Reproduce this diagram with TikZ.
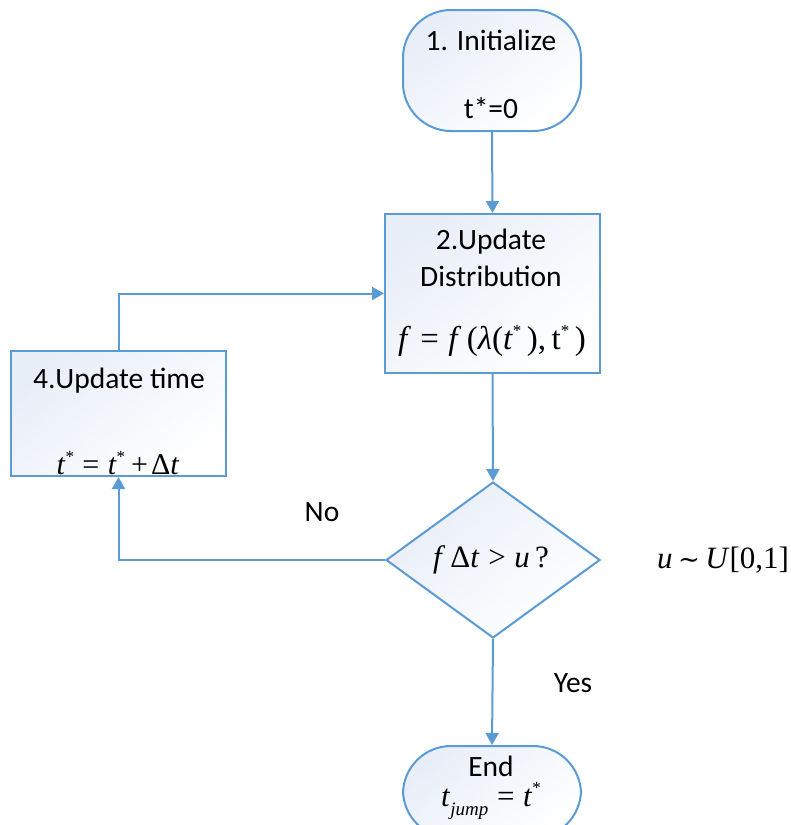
\documentclass[tikz,border=0pt]{standalone}
\usepackage{fontspec}
\setmainfont{Carlito}
\newfontfamily\tms{Liberation Serif}
\newfontfamily\djv{DejaVu Serif}
\usetikzlibrary{shapes.geometric,arrows.meta}
\definecolor{flowline}{HTML}{5B9BD5}
\definecolor{flowtint}{HTML}{E8EEF8}
% italic letter, raised star and relation spacing for the formulas
\newcommand\mi[1]{\textit{#1}}
\newcommand\st{\raisebox{0.42em}{\fontsize{17}{17}\selectfont *}}
\newcommand\rsp{\hspace{0.28em}}
\begin{document}
\begin{tikzpicture}[x=1pt,y=-1pt,
  box/.style={draw=flowline,line width=2pt,top color=flowtint,bottom color=white,
    shading angle=40,minimum width=215pt,inner sep=0pt},
  term/.style={box,rounded corners=48pt,minimum width=178pt},
  decide/.style={draw=flowline,line width=2pt,top color=flowtint,bottom color=white,
    shading angle=40,diamond,aspect=1.37,minimum width=214pt,minimum height=156pt,inner sep=0pt},
  txt/.style={font=\fontsize{29.5}{34}\selectfont,inner sep=0pt,anchor=center},
  mth/.style={font=\tms\fontsize{31}{36}\selectfont,inner sep=0pt,anchor=center},
  flow/.style={draw=flowline,line width=2pt},
  arr/.style={flow,-{Triangle[width=13pt,length=12pt]}}
]
\useasboundingbox (0,0) rectangle (791,825);

% shapes
\node[term,minimum height=121pt] (init) at (492,70.5) {};
\node[box,minimum height=159pt] (upd) at (492.5,293.5) {};
\node[box,minimum height=125pt] (time) at (118.5,413.5) {};
\node[decide] (dec) at (493,560) {};
\node[term,minimum height=92pt] (fin) at (492,792) {};

% texts
\node[txt] (t1a) at (491,40) {1. Initialize};
\node[txt] (t1b) at (491,108) {t*=0};
\node[txt] (t2a) at (491,242) {2.Update};
\node[txt] (t2b) at (491,276) {Distribution};
\node[mth,font=\tms\fontsize{33}{38}\selectfont] (t2c) at (492,341)
  {\mi{f}\rsp=\rsp\mi{f}\,(\mi{λ}(\mi{t}\st\,),\,t\st\,)};
\node[txt] (t4a) at (119,381) {4.Update time};
\node[mth,font=\tms\fontsize{30}{35}\selectfont] (t4b) at (118,463)
  {\mi{t}\st\rsp=\rsp\mi{t}\st\hspace{0.2em}+\hspace{0.1em}Δ\mi{t}};
\node[mth] (t3) at (491,560) {\mi{f}\,Δ\mi{t}\rsp>\rsp\mi{u}\,?};
\node[txt] (t5a) at (491,766) {End};
\node[mth] (t5b) at (491,801) {\mi{t}\raisebox{-0.3em}{\fontsize{19}{19}\selectfont\mi{jump}}\rsp=\rsp\mi{t}\st};
\node[txt] (no) at (322,512) {No};
\node[txt] (yes) at (573,683) {Yes};
\node[mth] (dist) at (723,560) {\mi{u}\hspace{0.18em}{\djv\fontsize{26}{30}\selectfont ∼}\hspace{0.18em}\mi{U}[0,1]};

% connectors
\draw[arr] (init.south) -- (upd.north);
\draw[arr] (upd.south) -- (dec.north);
\draw[arr] (dec.south) -- (fin.north);
\draw[arr] (dec.west) -| (time.south);
\draw[arr] (time.north) |- (upd.west);
\end{tikzpicture}
\end{document}
